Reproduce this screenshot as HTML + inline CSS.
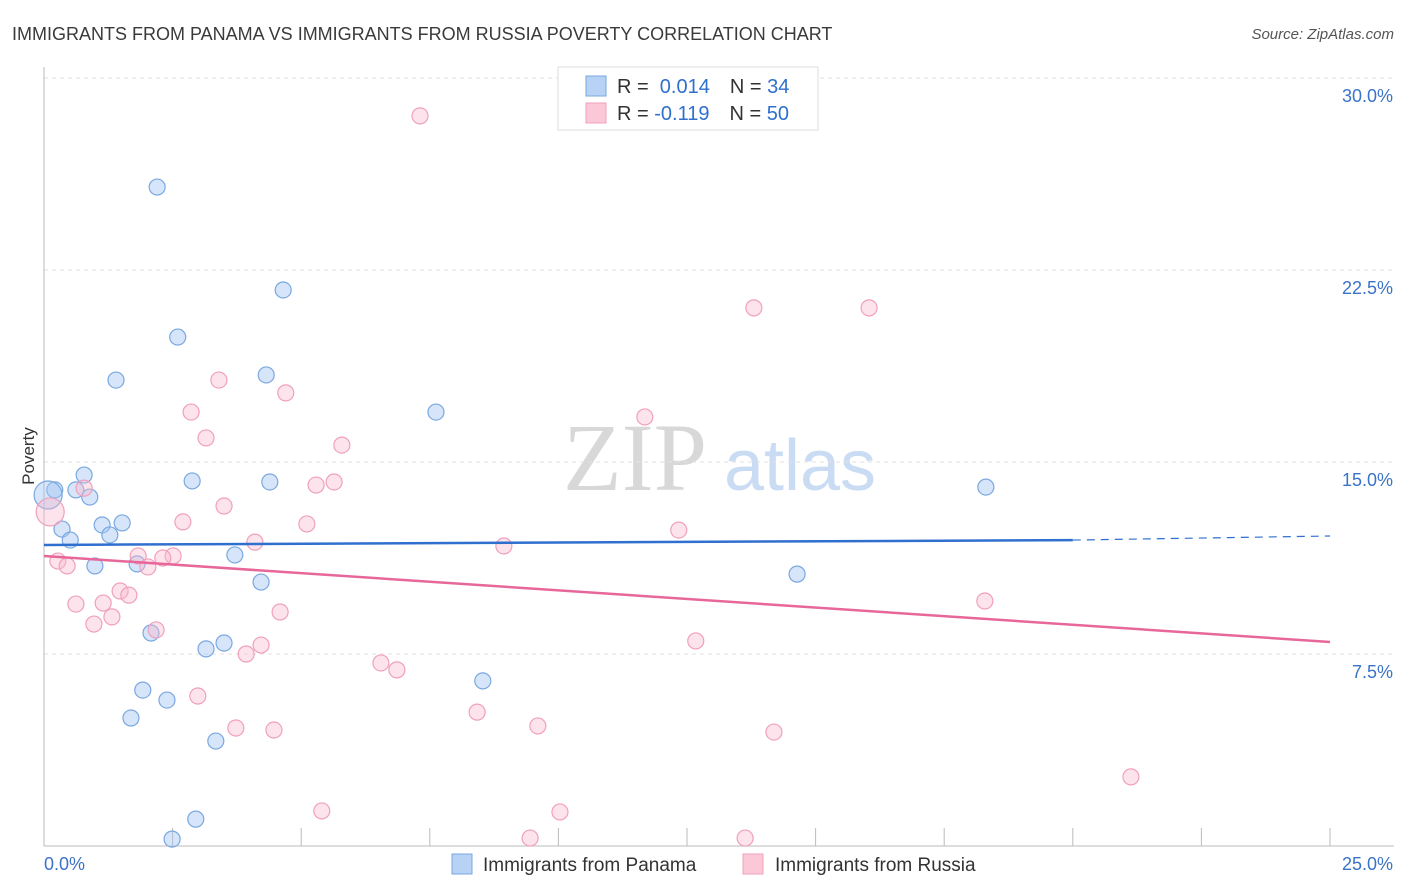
<!DOCTYPE html>
<html><head><meta charset="utf-8"><style>
body{margin:0;background:#fff;font-family:"Liberation Sans",sans-serif;}
svg{display:block}
</style></head><body>
<svg id="chart" width="1406" height="892">
<text x="12" y="40" font-size="18" fill="#3a3a3a">IMMIGRANTS FROM PANAMA VS IMMIGRANTS FROM RUSSIA POVERTY CORRELATION CHART</text>
<text x="1394" y="39" font-size="15" fill="#555" font-style="italic" text-anchor="end">Source: ZipAtlas.com</text>
<g>
<text x="635" y="490" font-size="96" fill="#d8d8d8" text-anchor="middle" font-family="Liberation Serif,serif">ZIP</text>
<text x="800" y="490" font-size="72" fill="#c9dcf3" text-anchor="middle">atlas</text>
</g>
<g id="grid"></g>
<g id="axes"></g>
<g id="marks"></g>
<text x="34" y="456" font-size="17" fill="#333" text-anchor="middle" transform="rotate(-90 34 456)">Poverty</text>
<g>
<rect x="558" y="67" width="260" height="63" fill="#fff" stroke="#ddd"/>
<rect x="586" y="76" width="20" height="20" fill="#b8d2f5" stroke="#7aa8e0"/>
<rect x="586" y="103" width="20" height="20" fill="#fbc8d8" stroke="#f0a0bc"/>
<text x="617" y="93" font-size="20" fill="#333">R = <tspan fill="#2f6fce">&#160;0.014</tspan><tspan dx="20" fill="#333">N = </tspan><tspan fill="#2f6fce">34</tspan></text>
<text x="617" y="120" font-size="20" fill="#333">R = <tspan fill="#2f6fce">-0.119</tspan><tspan dx="20" fill="#333">N = </tspan><tspan fill="#2f6fce">50</tspan></text>
</g>
<g>
<rect x="452" y="854" width="20" height="20" fill="#b8d2f5" stroke="#7aa8e0"/>
<text x="483" y="871" font-size="19" fill="#333">Immigrants from Panama</text>
<rect x="743" y="854" width="20" height="20" fill="#fbc8d8" stroke="#f0a0bc"/>
<text x="775" y="871" font-size="19" fill="#333">Immigrants from Russia</text>
</g>
</svg>
<script>
const yTicks=[7.5,15,22.5,30];
const yTickLabels=["7.5%","15.0%","22.5%","30.0%"];
const xTickValues=[0,2.5,5,7.5,10,12.5,15,17.5,20,22.5,25];
const panamaX=[2.20,4.65,2.60,1.40,4.32,7.62,0.78,0.21,0.62,0.89,2.88,4.39,18.31,0.35,1.13,1.52,1.28,0.51,3.71,0.99,1.81,4.22,14.64,2.08,3.50,3.15,8.53,1.92,2.39,1.69,3.34,2.95,2.49,0.08];
const panamaY=[25.74,21.72,19.88,18.20,18.40,16.95,14.49,13.91,13.91,13.63,14.26,14.22,14.02,12.38,12.54,12.62,12.15,11.95,11.37,10.94,11.02,10.31,10.62,8.32,7.93,7.70,6.45,6.09,5.70,5.00,4.10,1.05,0.27,13.71];
const russiaX=[7.31,13.80,16.04,3.40,4.70,2.86,11.68,3.15,5.79,0.78,5.29,5.64,3.50,2.70,5.11,12.34,4.10,8.94,1.83,2.51,2.31,0.27,0.45,2.02,1.48,1.65,0.62,1.15,4.59,1.32,0.97,2.18,4.22,3.93,12.67,6.55,6.86,2.99,18.29,3.73,4.47,8.42,9.60,14.19,21.13,5.40,10.03,9.45,13.63,0.12];
const russiaY=[28.52,21.02,21.02,18.20,17.70,16.95,16.76,15.94,15.66,13.98,14.10,14.22,13.28,12.66,12.58,12.34,11.87,11.72,11.33,11.33,11.25,11.13,10.94,10.90,9.96,9.80,9.45,9.49,9.14,8.95,8.67,8.44,7.85,7.50,8.01,7.15,6.88,5.86,9.57,4.61,4.53,5.23,4.69,4.45,2.70,1.37,1.33,0.31,0.31,13.05];
const panamaTrend=[11.76,11.95,12.11]; // at x=0, 20, 25
const russiaTrend=[11.33,7.97]; // at x=0, 25

const X=v=>44+v/25*1286, Y=v=>846-v/7.5*192;
const NS="http://www.w3.org/2000/svg";
function mk(t,a,p){const e=document.createElementNS(NS,t);for(const k in a)e.setAttribute(k,a[k]);p.appendChild(e);return e;}
const grid=document.getElementById('grid'),axes=document.getElementById('axes'),marks=document.getElementById('marks');
yTicks.forEach((t,i)=>{
 const l=mk('line',{x1:44,x2:1394,y1:Y(t),y2:Y(t),stroke:'#e2e2e2','stroke-dasharray':'4,4'},grid);
 
 
 const tx=mk('text',{x:1393,y:Y(t)+24,'font-size':18,fill:'#3b73c8','text-anchor':'end'},axes);
 tx.textContent=yTickLabels[i];
 
 
});
const al=mk('line',{x1:44,x2:44,y1:67,y2:846,stroke:'#bbb'},axes);

const bl=mk('line',{x1:44,x2:1394,y1:846,y2:846,stroke:'#bbb'},axes);

xTickValues.forEach(v=>{
 const t=mk('line',{x1:X(v),x2:X(v),y1:828,y2:846,stroke:'#bbb'},axes);
 
 
});
const x0=mk('text',{x:44,y:870,'font-size':18,fill:'#3b73c8'},axes);x0.textContent='0.0%';

const x1=mk('text',{x:1393,y:870,'font-size':18,fill:'#3b73c8','text-anchor':'end'},axes);x1.textContent='25.0%';


function dots(xs,ys,fill,stroke,name){
 xs.forEach((x,i)=>{
  const big=i===xs.length-1;
  const c=mk('circle',{cx:X(x),cy:Y(ys[i]),r:big?14:8,fill:fill,stroke:stroke,'stroke-width':1.2},marks);
  
  
 });
}
dots(panamaX,panamaY,'rgba(164,198,242,0.45)','#7aa8e0','panama-point');
dots(russiaX,russiaY,'rgba(249,186,206,0.4)','#f0a0bc','russia-point');
const pt=mk('line',{x1:X(0),y1:Y(panamaTrend[0]),x2:X(20),y2:Y(panamaTrend[1]),stroke:'#2f6fce','stroke-width':2.5},marks);

const pd=mk('line',{x1:X(20),y1:Y(panamaTrend[1]),x2:X(25),y2:Y(panamaTrend[2]),stroke:'#2f6fce','stroke-width':1.2,'stroke-dasharray':'8,6'},marks);

const rt=mk('line',{x1:X(0),y1:Y(russiaTrend[0]),x2:X(25),y2:Y(russiaTrend[1]),stroke:'#e8679a','stroke-width':2.5},marks);

</script>
</body></html>
